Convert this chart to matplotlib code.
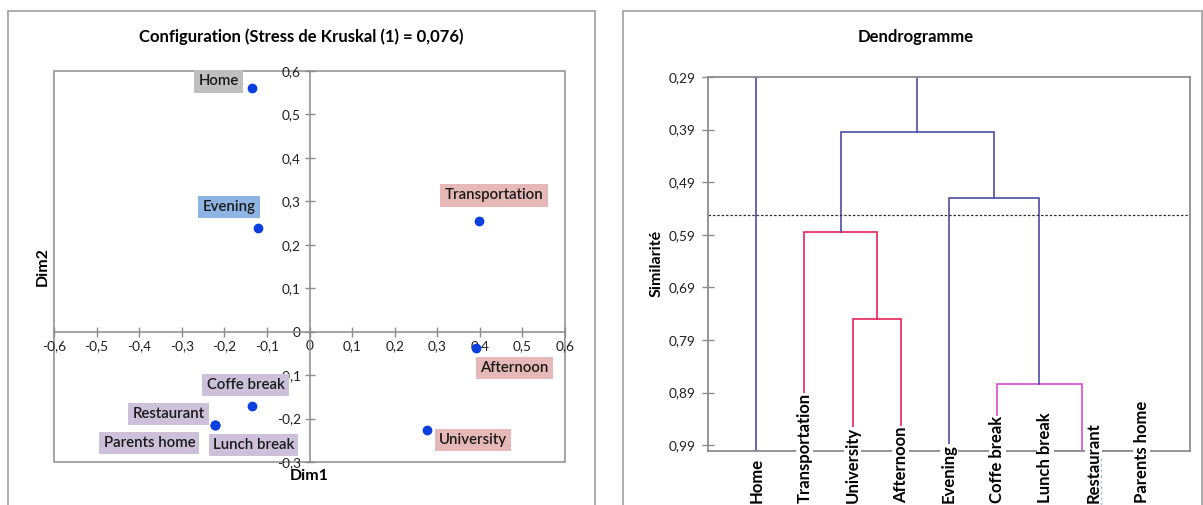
import matplotlib
matplotlib.use("Agg")
import matplotlib.pyplot as plt
from matplotlib.patches import Rectangle
from matplotlib.lines import Line2D
from matplotlib.ticker import FuncFormatter

plt.rcParams['font.family'] = ['Lato', 'DejaVu Sans']

# ---------------- data ----------------
mds_names = ["Home", "Evening", "Transportation", "Afternoon", "Coffe break",
             "Restaurant", "Parents home", "Lunch break", "University"]
mds_dim1 = [-0.134, -0.121, 0.398, 0.390, -0.134, -0.221, -0.221, -0.221, 0.276]
mds_dim2 = [0.560, 0.238, 0.254, -0.037, -0.171, -0.215, -0.215, -0.215, -0.227]
mds_group = [0, 1, 2, 2, 3, 3, 3, 3, 2]

dendro_leaves = ["Home", "Transportation", "University", "Afternoon", "Evening",
                 "Coffe break", "Lunch break", "Restaurant", "Parents home"]
# merges: (child a, child b, similarity); new nodes numbered from len(leaves)
merge_a = [7, 6, 5, 2, 1, 4, 13, 0]
merge_b = [8, 9, 10, 3, 12, 11, 14, 15]
merge_sim = [1.0, 1.0, 0.874, 0.750, 0.584, 0.520, 0.395, 0.25]
merge_cluster = [3, 3, 3, 2, 2, 0, 0, 0]
truncation = 0.552
sim_ticks = [0.29, 0.39, 0.49, 0.59, 0.69, 0.79, 0.89, 0.99]

# ---------------- styles ----------------
W, H = 1203, 505
fig = plt.figure(figsize=(W / 100, H / 100), dpi=100)

def fx(px):
    return px / W

def fy(py):
    return 1 - py / H

FRAME = '#A6A6A6'
AXC = '#8C8C8C'
TXT = '#1f1f1f'
TITLE_FS = 12
LAB_FS = 11.5
TICK_FS = 9.8

# chart frames
for (x0, x1) in [(8, 595), (623, 1202)]:
    r = Rectangle((fx(x0), fy(510)), fx(x1) - fx(x0), fy(10.5) - fy(510),
                  transform=fig.transFigure, facecolor='white',
                  edgecolor=FRAME, lw=1.3, zorder=-10)
    fig.patches.append(r)

# ---------------- left chart: MDS configuration ----------------
ax = fig.add_axes([fx(54), fy(462), fx(565) - fx(54), fy(71) - fy(462)])
ax.set_xlim(-0.6, 0.6)
ax.set_ylim(-0.3, 0.6)
ax.patch.set_alpha(0)
for s in ['top', 'right']:
    ax.spines[s].set_visible(False)
ax.spines['left'].set_position('zero')
ax.spines['bottom'].set_position('zero')
for s in ['left', 'bottom']:
    ax.spines[s].set_color(AXC)
    ax.spines[s].set_linewidth(1.1)
ax.add_patch(Rectangle((0, 0), 1, 1, transform=ax.transAxes, fill=False,
                       edgecolor=AXC, lw=1.1, clip_on=False, zorder=0))
fmt = FuncFormatter(lambda v, p: ('%g' % round(v, 2)).replace('.', ','))
ax.set_xticks([i / 10 for i in range(-6, 7)])
ax.set_yticks([i / 10 for i in range(-3, 7)])
ax.xaxis.set_major_formatter(fmt)
ax.yaxis.set_major_formatter(fmt)
ax.tick_params(direction='inout', length=7.5, width=1.0, color=AXC,
               labelsize=TICK_FS, labelcolor=TXT, pad=2.5)

ax.scatter(mds_dim1, mds_dim2, s=36, color='#0A3FE0', zorder=5, clip_on=False)

group_colors = ['#BFBFBF', '#8DB4E2', '#E6B9B8', '#CCC0DA']
label_offsets = {  # pixels (dx right, dy up)
    "Home": (-34, 7), "Evening": (-29, 21), "Transportation": (15, 26),
    "Afternoon": (39, -20), "Coffe break": (-7, 21), "Restaurant": (-47, 11),
    "Parents home": (-66, -18), "Lunch break": (38, -20), "University": (46, -10),
}
for n_, x, y, g in zip(mds_names, mds_dim1, mds_dim2, mds_group):
    dx, dy = label_offsets[n_]
    ax.annotate(n_, (x, y), xytext=(dx * 0.72, dy * 0.72), textcoords='offset points',
                ha='center', va='center', fontsize=10.8, fontweight='semibold',
                color='#1a1a1a',
                bbox=dict(boxstyle='square,pad=0.28', facecolor=group_colors[g],
                          edgecolor='none'), zorder=6, annotation_clip=False)

fig.text(fx(301), fy(37), "Configuration (Stress de Kruskal (1) = 0,076)",
         ha='center', va='center', fontsize=TITLE_FS, fontweight='bold', color='black')
fig.text(fx(309), fy(476), "Dim1", ha='center', va='center', fontsize=LAB_FS,
         fontweight='bold', color='black')
fig.text(fx(43), fy(266), "Dim2", ha='center', va='center', rotation=90,
         fontsize=LAB_FS, fontweight='bold', color='black')

# ---------------- right chart: dendrogram ----------------
ax2 = fig.add_axes([fx(708), fy(450.5), fx(1190) - fx(708), fy(77) - fy(450.5)])
ax2.set_xlim(0, 10)
ax2.set_ylim(1.0, 0.29)
ax2.patch.set_alpha(0)
for s in ax2.spines.values():
    s.set_color(AXC)
    s.set_linewidth(1.3)
    s.set_zorder(3.5)
ax2.set_xticks([])
ax2.set_yticks(sim_ticks)
ax2.yaxis.set_major_formatter(FuncFormatter(lambda v, p: ('%.2f' % v).replace('.', ',')))
ax2.tick_params(axis='y', direction='inout', length=8, width=1.0, color=AXC,
                labelsize=TICK_FS, labelcolor=TXT, pad=5)

cluster_colors = ['#4B4BA6', '#4B4BA6', '#E8225A', '#D64BCF']
pos = {i: (i + 1, 1.0) for i in range(len(dendro_leaves))}
n = len(dendro_leaves)
for k, (a, b, h, c) in enumerate(zip(merge_a, merge_b, merge_sim, merge_cluster)):
    xa, ha_ = pos[a]
    xb, hb = pos[b]
    col = cluster_colors[c]
    ax2.plot([xa, xa, xb, xb], [ha_, h, h, hb], color=col, lw=1.2, zorder=2,
             solid_joinstyle='miter')
    pos[n + k] = ((xa + xb) / 2, h)

ax2.axhline(truncation, color='#333333', lw=0.9, ls=(0, (2, 1.5)), zorder=3)

for i, name in enumerate(dendro_leaves):
    ax2.text(i + 1, 1.0 + 53 / 527, name, rotation=90, ha='center', va='bottom',
             fontsize=12, fontweight='bold', color='black', clip_on=False,
             bbox=dict(facecolor='white', edgecolor='none', pad=0.5), zorder=4)

fig.text(fx(916), fy(37), "Dendrogramme", ha='center', va='center', fontsize=TITLE_FS,
         fontweight='bold', color='black')
fig.text(fx(657), fy(263), "Similarité", ha='center', va='center', rotation=90,
         fontsize=LAB_FS, fontweight='bold', color='black')

# spreadsheet selection marquee peeking at bottom right
fig.lines.append(Line2D([fx(1100.5), fx(1100.5)], [fy(458), fy(505)],
                        transform=fig.transFigure, color='#9CC3E6', lw=1.0,
                        ls=(0, (2, 2)), zorder=10))

fig.savefig("out.png", dpi=100)
